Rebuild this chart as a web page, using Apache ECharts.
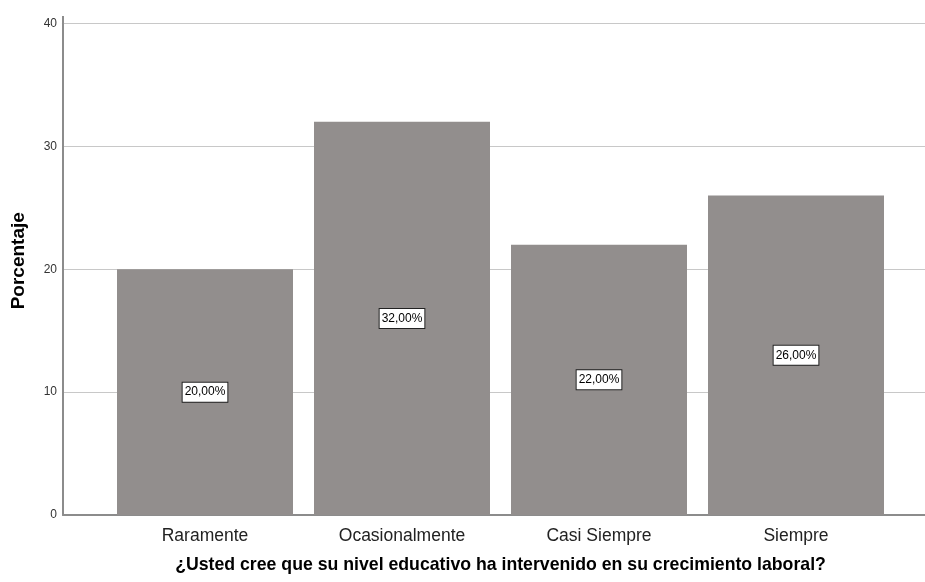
<!DOCTYPE html>
<html><head><meta charset="utf-8">
<script src="https://cdn.jsdelivr.net/npm/echarts@6/dist/echarts.min.js"></script>
<style>html,body{margin:0;padding:0;background:#fff}#c{width:925px;height:582px}</style>
</head><body><div id="c"></div>
<script>
const categories = ['Raramente', 'Ocasionalmente', 'Casi Siempre', 'Siempre'];
const values = [20, 32, 22, 26];
const yTicks = [0, 10, 20, 30, 40];
const xTitle = '¿Usted cree que su nivel educativo ha intervenido en su crecimiento laboral?';
const yTitle = 'Porcentaje';

const chart = echarts.init(document.getElementById('c'));
const FONT = 'Liberation Sans, Arial, sans-serif';
chart.setOption({
  animation: false,
  grid: [
    {left: 63, right: 0, top: 23.5, bottom: 67},
    {left: 106.5, right: 30.5, top: 23.5, bottom: 67}
  ],
  graphic: [{type: 'line', shape: {x1: 63, y1: 16, x2: 63, y2: 24},
    style: {stroke: '#8c8c8c', lineWidth: 2}}],
  xAxis: [
    {gridIndex: 0, type: 'value', min: 0, max: 1, show: true,
     axisLine: {show: true, onZero: false, lineStyle: {color: '#8c8c8c', width: 2}},
     axisTick: {show: false}, axisLabel: {show: false}, splitLine: {show: false}},
    {gridIndex: 1, type: 'category', data: categories,
     axisLine: {show: false}, axisTick: {show: false},
     axisLabel: {color: '#222', fontSize: 17.5, fontFamily: FONT, margin: 12},
     name: xTitle, nameLocation: 'middle', nameGap: 41,
     nameTextStyle: {color: '#000', fontSize: 17.7, fontWeight: 'bold', fontFamily: FONT}}
  ],
  yAxis: [
    {gridIndex: 0, type: 'value', min: yTicks[0], max: yTicks[yTicks.length-1], interval: 10,
     axisLine: {show: true, lineStyle: {color: '#8c8c8c', width: 2}},
     axisTick: {show: false},
     axisLabel: {color: '#333', fontSize: 12, fontFamily: FONT, margin: 6},
     splitLine: {show: true, lineStyle: {color: '#c8c8c8', width: 1}},
     name: yTitle, nameLocation: 'middle', nameGap: 35, nameRotate: 90,
     nameTextStyle: {color: '#000', fontSize: 19, fontWeight: 'bold', fontFamily: FONT,
       padding: [0, 0, 0, 17]}},
    {gridIndex: 1, type: 'value', min: yTicks[0], max: yTicks[yTicks.length-1], show: false}
  ],
  series: [{
    type: 'bar', xAxisIndex: 1, yAxisIndex: 1, data: values, barWidth: 176,
    itemStyle: {color: '#928e8d'},
    label: {show: true, position: 'inside',
      formatter: p => p.value.toFixed(2).replace('.', ',') + '%',
      color: '#000', fontSize: 12, fontFamily: FONT,
      backgroundColor: '#fff', borderColor: '#222', borderWidth: 1,
      padding: [4, 2, 3, 2]}
  }]
});
</script></body></html>
